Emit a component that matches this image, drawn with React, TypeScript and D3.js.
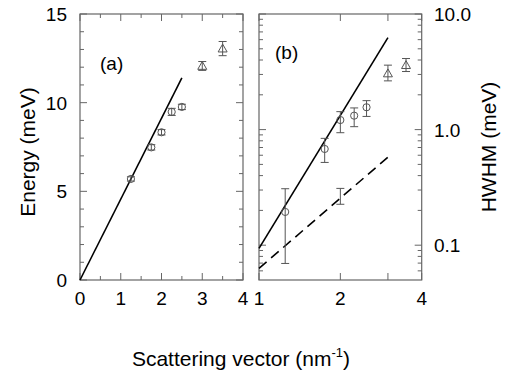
import React from 'react';
import * as d3 from 'd3';

// panel (a): dispersion
const qCircA = [1.25, 1.75, 2.0, 2.25, 2.5];
const eCircA = [5.7, 7.48, 8.33, 9.48, 9.76];
const errCircA = [0.12, 0.15, 0.15, 0.2, 0.15];
const qTriA = [3.0, 3.5];
const eTriA = [12.07, 13.05];
const errTriA = [0.25, 0.4];
const lineQA = [0, 2.5];
const lineEA = [0, 11.4];

// panel (b): linewidth
const qCircB = [1.25, 1.75, 2.0, 2.25, 2.5];
const wCircB = [0.194, 0.68, 1.21, 1.32, 1.56];
const loCircB = [0.0695, 0.52, 0.94, 1.06, 1.3];
const hiCircB = [0.308, 0.84, 1.43, 1.54, 1.78];
const qTriB = [3.0, 3.5];
const wTriB = [3.06, 3.61];
const loTriB = [2.64, 3.18];
const hiTriB = [3.61, 4.12];
const qBarB = [2.0];
const loBarB = [0.226];
const hiBarB = [0.31];
const solidQB = [1, 3];
const solidWB = [0.094, 6.25];
const dashQB = [1, 3];
const dashWB = [0.063, 0.578];

const xTicksA = [0, 1, 2, 3, 4];
const yTicksA = [0, 5, 10, 15];
const xTicksB = [1, 2, 4];
const yTicksB = [0.1, 1, 10];

const FONT = 'Liberation Sans, Arial, Helvetica, sans-serif';
const FRAME = '#666';
const MARK = '#555';

const top = 14, bottom = 280;
const xA = d3.scaleLinear().domain([0, 4]).range([80, 243]);
const yA = d3.scaleLinear().domain([0, 15]).range([bottom, top]);
const xB = d3.scaleLog().base(2).domain([1, 4]).range([259, 421.7]);
const yB = d3.scaleLog().domain([0.05, 10]).range([bottom, top]);

const line = d3.line<[number, number]>();

function tri(cx: number, cy: number, s = 4.5) {
  return `M${cx},${cy - s}L${cx + s},${cy + s * 0.75}L${cx - s},${cy + s * 0.75}Z`;
}

function ErrBar({ x, y1, y2 }: { x: number; y1: number; y2: number }) {
  return (
    <g stroke={MARK} strokeWidth={1}>
      <line x1={x} x2={x} y1={y1} y2={y2} />
      <line x1={x - 4} x2={x + 4} y1={y1} y2={y1} />
      <line x1={x - 4} x2={x + 4} y1={y2} y2={y2} />
    </g>
  );
}

export default function App() {
  // minor ticks
  const xMinorA = d3.range(0.5, 4, 0.5).filter(v => v % 1 !== 0);
  const yMinorA = d3.range(1, 15, 1).filter(v => v % 5 !== 0);
  const yMinorB: number[] = [];
  [0.01, 0.1, 1].forEach(dec => {
    for (let k = 2; k <= 9; k++) {
      const v = dec * k;
      if (v > 0.05 && v < 10) yMinorB.push(v);
    }
  });
  const xMinorB = [3];

  const [xa0, xa1] = xA.range();
  const [xb0, xb1] = xB.range();
  const maj = 7, mn = 4;

  return (
    <svg width={505} height={377} style={{ position: 'absolute', left: 0, top: 0 }}>
      <rect x={0} y={0} width={505} height={377} fill="#fff" />

      {/* panel (a) */}
      <g>
        <rect x={xa0} y={top} width={xa1 - xa0} height={bottom - top} fill="none" stroke={FRAME} strokeWidth={1.2} />
        <g stroke={FRAME} strokeWidth={1}>
          {xTicksA.map(v => (
            <g key={'xa' + v}>
              <line x1={xA(v)} x2={xA(v)} y1={bottom} y2={bottom - maj} />
              <line x1={xA(v)} x2={xA(v)} y1={top} y2={top + maj} />
            </g>
          ))}
          {xMinorA.map(v => (
            <g key={'xam' + v}>
              <line x1={xA(v)} x2={xA(v)} y1={bottom} y2={bottom - mn} />
              <line x1={xA(v)} x2={xA(v)} y1={top} y2={top + mn} />
            </g>
          ))}
          {yTicksA.map(v => (
            <g key={'ya' + v}>
              <line x1={xa0} x2={xa0 + maj} y1={yA(v)} y2={yA(v)} />
              <line x1={xa1} x2={xa1 - maj} y1={yA(v)} y2={yA(v)} />
            </g>
          ))}
          {yMinorA.map(v => (
            <g key={'yam' + v}>
              <line x1={xa0} x2={xa0 + mn} y1={yA(v)} y2={yA(v)} />
              <line x1={xa1} x2={xa1 - mn} y1={yA(v)} y2={yA(v)} />
            </g>
          ))}
        </g>
        <g fontFamily={FONT} fontSize={19} fill="#000">
          {xTicksA.map(v => (
            <text key={'xl' + v} x={xA(v)} y={305} textAnchor="middle">{v}</text>
          ))}
          {yTicksA.map(v => (
            <text key={'yl' + v} x={67} y={yA(v) + 7} textAnchor="end">{v}</text>
          ))}
          <text x={100} y={70}>(a)</text>
        </g>
        <path
          d={line(lineQA.map((q, i) => [xA(q), yA(lineEA[i])]))!}
          fill="none" stroke="#000" strokeWidth={1.6}
        />
        {qCircA.map((q, i) => (
          <g key={'ca' + i}>
            <ErrBar x={xA(q)} y1={yA(eCircA[i] + errCircA[i])} y2={yA(eCircA[i] - errCircA[i])} />
            <circle cx={xA(q)} cy={yA(eCircA[i])} r={3.6} fill="none" stroke={MARK} strokeWidth={1} />
          </g>
        ))}
        {qTriA.map((q, i) => (
          <g key={'ta' + i}>
            <ErrBar x={xA(q)} y1={yA(eTriA[i] + errTriA[i])} y2={yA(eTriA[i] - errTriA[i])} />
            <path d={tri(xA(q), yA(eTriA[i]))} fill="none" stroke={MARK} strokeWidth={1} />
          </g>
        ))}
      </g>

      {/* panel (b) */}
      <g>
        <rect x={xb0} y={top} width={xb1 - xb0} height={bottom - top} fill="none" stroke={FRAME} strokeWidth={1.2} />
        <g stroke={FRAME} strokeWidth={1}>
          {xTicksB.concat(xMinorB).map(v => (
            <g key={'xb' + v}>
              <line x1={xB(v)} x2={xB(v)} y1={bottom} y2={bottom - maj} />
              <line x1={xB(v)} x2={xB(v)} y1={top} y2={top + maj} />
            </g>
          ))}
          {yTicksB.map(v => (
            <g key={'yb' + v}>
              <line x1={xb0} x2={xb0 + maj} y1={yB(v)} y2={yB(v)} />
              <line x1={xb1} x2={xb1 - maj} y1={yB(v)} y2={yB(v)} />
            </g>
          ))}
          {yMinorB.map(v => (
            <g key={'ybm' + v}>
              <line x1={xb0} x2={xb0 + mn} y1={yB(v)} y2={yB(v)} />
              <line x1={xb1} x2={xb1 - mn} y1={yB(v)} y2={yB(v)} />
            </g>
          ))}
        </g>
        <g fontFamily={FONT} fontSize={19} fill="#000">
          {xTicksB.map(v => (
            <text key={'xbl' + v} x={xB(v)} y={305} textAnchor="middle">{v}</text>
          ))}
          {yTicksB.map(v => (
            <text key={'ybl' + v} x={434} y={yB(v) + 7}>{v.toFixed(1)}</text>
          ))}
          <text x={275} y={59}>(b)</text>
        </g>
        <path
          d={line(solidQB.map((q, i) => [xB(q), yB(solidWB[i])]))!}
          fill="none" stroke="#000" strokeWidth={1.6}
        />
        <path
          d={line(dashQB.map((q, i) => [xB(q), yB(dashWB[i])]))!}
          fill="none" stroke="#000" strokeWidth={1.6} strokeDasharray="10,6"
        />
        {qBarB.map((q, i) => (
          <ErrBar key={'bb' + i} x={xB(q)} y1={yB(hiBarB[i])} y2={yB(loBarB[i])} />
        ))}
        {qCircB.map((q, i) => (
          <g key={'cb' + i}>
            <ErrBar x={xB(q)} y1={yB(hiCircB[i])} y2={yB(loCircB[i])} />
            <circle cx={xB(q)} cy={yB(wCircB[i])} r={3.6} fill="none" stroke={MARK} strokeWidth={1} />
          </g>
        ))}
        {qTriB.map((q, i) => (
          <g key={'tb' + i}>
            <ErrBar x={xB(q)} y1={yB(hiTriB[i])} y2={yB(loTriB[i])} />
            <path d={tri(xB(q), yB(wTriB[i]))} fill="none" stroke={MARK} strokeWidth={1} />
          </g>
        ))}
      </g>

      {/* axis titles */}
      <g fontFamily={FONT} fontSize={21} fill="#000">
        <text transform="translate(35,152) rotate(-90)" textAnchor="middle">Energy (meV)</text>
        <text transform="translate(496,147) rotate(-90)" textAnchor="middle">HWHM (meV)</text>
        <text x={241} y={366} textAnchor="middle">
          Scattering vector (nm<tspan fontSize={13} dy={-9}>-1</tspan><tspan dy={9}>)</tspan>
        </text>
      </g>
    </svg>
  );
}
